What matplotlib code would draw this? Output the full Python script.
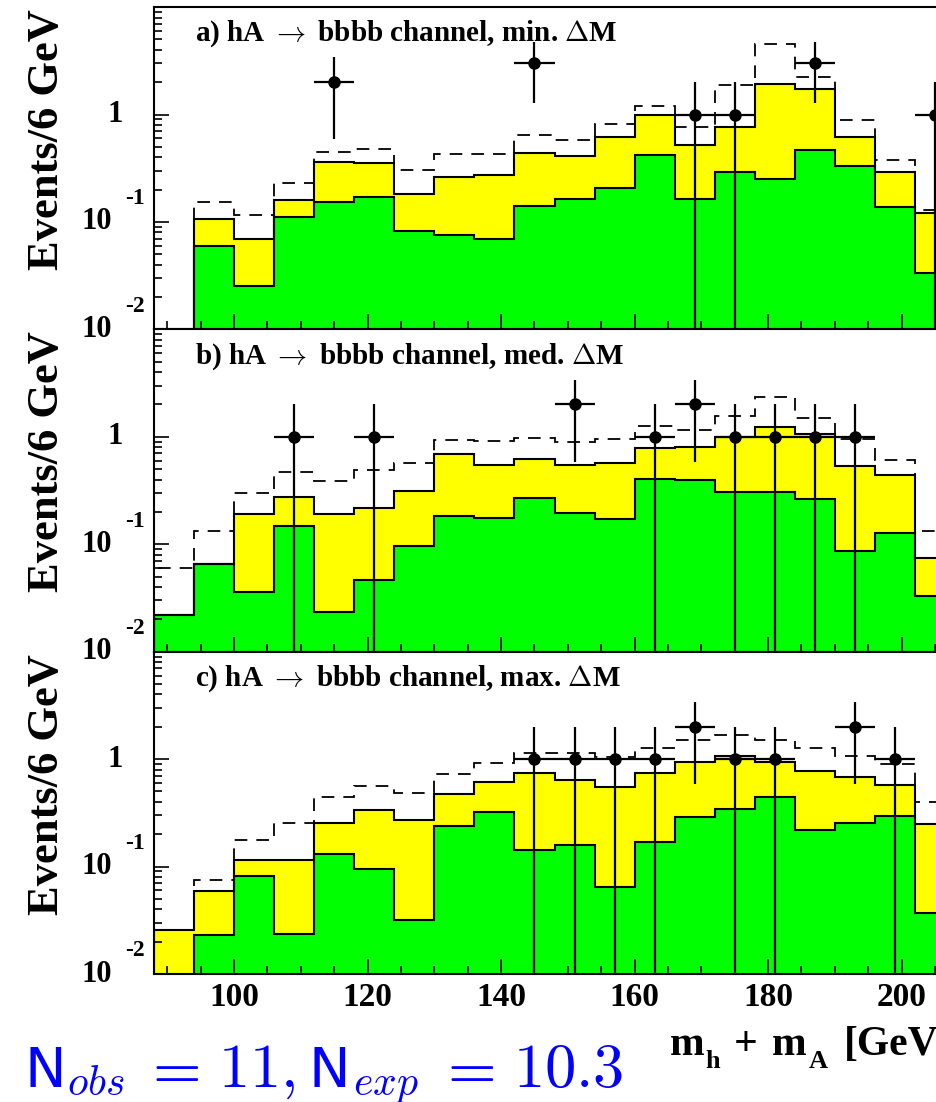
import numpy as np
import matplotlib
matplotlib.use('Agg')
import matplotlib.pyplot as plt
import matplotlib.transforms as mtransforms
from matplotlib.ticker import MultipleLocator, LogLocator, NullFormatter

plt.rcParams['font.family'] = ['Liberation Serif', 'DejaVu Serif']
plt.rcParams['font.weight'] = 'bold'
plt.rcParams['mathtext.fontset'] = 'cm'

nan = np.nan
edges = np.arange(88, 209, 6)          # 6 GeV bins, 88 .. 208
titles = [r'a) hA $\rightarrow$ bbbb channel, min. $\Delta$M',
          r'b) hA $\rightarrow$ bbbb channel, med. $\Delta$M',
          r'c) hA $\rightarrow$ bbbb channel, max. $\Delta$M']

# green = bottom component, yellow = total background, dashed = with signal
green_a = [nan, 0.060, 0.0252, 0.111, 0.152, 0.170, 0.082, 0.076, 0.0695, 0.141,
           0.164, 0.207, 0.421, 0.163, 0.292, 0.250, 0.472, 0.332, 0.138, 0.0337]
yellow_a = [nan, 0.106, 0.070, 0.160, 0.360, 0.352, 0.182, 0.264, 0.272, 0.440,
            0.409, 0.619, 0.986, 0.518, 0.767, 1.94, 1.72, 0.619, 0.292, 0.120]
dashed_a = [nan, 0.155, 0.115, 0.229, 0.449, 0.475, 0.307, 0.430, 0.433, 0.642,
            0.576, 0.813, 1.20, 0.767, 1.90, 4.49, 2.24, 0.898, 0.376, 0.128]
obs_x_a = [115, 145, 169, 175, 187, 205]
obs_n_a = [2, 3, 1, 1, 3, 1]

green_b = [0.0218, 0.066, 0.036, 0.148, 0.0234, 0.0462, 0.0958, 0.185, 0.175, 0.270,
           0.196, 0.171, 0.403, 0.395, 0.307, 0.305, 0.264, 0.0867, 0.127, 0.0328]
yellow_b = [0.0218, 0.066, 0.193, 0.274, 0.190, 0.218, 0.316, 0.685, 0.548, 0.624,
            0.544, 0.573, 0.790, 0.796, 1.0, 1.24, 1.06, 0.537, 0.443, 0.0746]
dashed_b = [0.060, 0.133, 0.301, 0.472, 0.389, 0.489, 0.565, 0.938, 0.924, 0.979,
            0.898, 0.951, 1.26, 1.16, 1.57, 2.34, 1.49, 0.951, 0.610, 0.132]
obs_x_b = [109, 121, 151, 163, 169, 175, 181, 187, 193]
obs_n_b = [1, 1, 2, 1, 2, 1, 1, 1, 1]

green_c = [nan, 0.0231, 0.0824, 0.0238, 0.130, 0.0945, 0.0316, 0.238, 0.321, 0.144,
           0.160, 0.0647, 0.170, 0.288, 0.344, 0.446, 0.218, 0.253, 0.296, 0.0373]
yellow_c = [0.0259, 0.0593, 0.115, 0.114, 0.252, 0.335, 0.270, 0.469, 0.615, 0.735,
            0.637, 0.552, 0.746, 0.931, 1.07, 0.944, 0.773, 0.675, 0.569, 0.250]
dashed_c = [nan, 0.0746, 0.176, 0.253, 0.440, 0.560, 0.479, 0.725, 0.924, 1.15,
            1.13, 1.05, 1.26, 1.52, 1.69, 1.50, 1.28, 1.07, 0.898, 0.403]
obs_x_c = [145, 151, 157, 163, 169, 175, 181, 193, 199]
obs_n_c = [1, 1, 1, 1, 2, 1, 1, 2, 1]

panels = [
    (green_a, yellow_a, dashed_a, obs_x_a, obs_n_a),
    (green_b, yellow_b, dashed_b, obs_x_b, obs_n_b),
    (green_c, yellow_c, dashed_c, obs_x_c, obs_n_c),
]

W_PX, H_PX = 937, 1102
fig = plt.figure(figsize=(W_PX / 100, H_PX / 100), dpi=100)


def stairs(ax, vals, **kw):
    vals = np.asarray(vals, float)
    i0 = int(np.argmax(np.isfinite(vals)))
    return ax.stairs(vals[i0:], edges[i0:], **kw)


left = 154 / W_PX
ax_h = 322.3 / H_PX
bottom_c = 1 - 974 / H_PX
for k, (green, yellow, dashed, ox, on) in enumerate(panels):
    ax = fig.add_axes([left, bottom_c + (2 - k) * ax_h, 1 - left, ax_h])
    ax.set_yscale('log')
    ax.set_xlim(88, 205.3)
    ax.set_ylim(0.01, 10)

    # dashed first, so its parts below the fills are hidden (ROOT look)
    stairs(ax, dashed, color='k', lw=1.3, baseline=1e-3, linestyle=(0, (7, 5)))
    stairs(ax, yellow, fill=True, color='#ffff00', baseline=1e-3, lw=0)
    stairs(ax, green, fill=True, color='#00ff00', baseline=1e-3, lw=0)
    stairs(ax, yellow, color='k', lw=1.5, baseline=1e-3)
    stairs(ax, green, color='k', lw=1.5, baseline=1e-3)

    on = np.asarray(on, float)
    ax.errorbar(ox, on, xerr=3, yerr=np.sqrt(on), fmt='o', color='k',
                ms=8, elinewidth=1.6, capsize=0, zorder=5)

    ax.text(41 / 783, 1 - 34 / 322, titles[k], transform=ax.transAxes,
            ha='left', va='baseline', fontsize=21, fontweight='bold')

    ax.xaxis.set_major_locator(MultipleLocator(20))
    ax.xaxis.set_minor_locator(MultipleLocator(5))
    ax.yaxis.set_major_locator(LogLocator(base=10))
    ax.yaxis.set_minor_locator(LogLocator(base=10, subs=np.arange(2, 10)))
    ax.yaxis.set_major_formatter(NullFormatter())
    ax.yaxis.set_minor_formatter(NullFormatter())
    ax.tick_params(which='both', direction='in', top=False, right=False, width=1.2)
    ax.tick_params(which='major', length=11)
    ax.tick_params(which='minor', length=5.5)
    ax.tick_params(axis='x', labelsize=24, pad=6)
    if k < 2:
        ax.tick_params(axis='x', labelbottom=False)
    ax.spines['right'].set_visible(False)
    for s in ('left', 'bottom', 'top'):
        ax.spines[s].set_linewidth(1.5)

    # ROOT style y labels: "10" with a raised exponent
    trans = mtransforms.blended_transform_factory(fig.transFigure, ax.transData)
    up = mtransforms.offset_copy(trans, fig=fig, y=23, units='dots')
    ax.text(123 / W_PX, 1, '1', transform=trans, ha='right', va='center',
            fontsize=22, fontweight='bold', clip_on=False)
    for val, ex in [(0.1, '-1'), (0.01, '-2')]:
        ax.text(112 / W_PX, val, '10', transform=trans, ha='right', va='center',
                fontsize=22, fontweight='bold', clip_on=False)
        ax.text(125 / W_PX, val, ex, transform=up, ha='left', va='center',
                fontsize=17, fontweight='bold', clip_on=False)

    top_px = 974 - (3 - k) * 322.3
    fig.text(47 / W_PX, 1 - (top_px + 2) / H_PX, 'Events/6 GeV', rotation=90,
             ha='center', va='top', fontsize=32, fontweight='bold')

# x axis title, built from pieces (main text + lowered subscripts)
xlab = [('m', 670, 0, 30), ('h', 705, 13, 19), ('+', 734, 0, 30),
        ('m', 772, 0, 30), ('A', 809, 13, 19), ('[GeV]', 844, 0, 30)]
for s, x, dy, fs in xlab:
    fig.text(x / W_PX, 1 - (1055 + dy) / H_PX, s, ha='left', va='baseline',
             fontsize=fs, fontweight='bold')

# blue summary text
blue = '#0000ff'
summary = [('N', 25, 0, 40, 'sans', 'left'), (r'$obs$', 67, 8, 30, 'math', 'left'),
           (r'$=$', 171, 0, 45, 'math', 'center'), (r'$11,$', 218, 0, 45, 'math', 'left'),
           ('N', 309, 0, 40, 'sans', 'left'), (r'$exp$', 353, 8, 30, 'math', 'left'),
           (r'$=$', 466, 0, 45, 'math', 'center'), (r'$10.3$', 623, 0, 45, 'math', 'right')]
for s, x, dy, fs, kind, ha in summary:
    fam = ['DejaVu Sans'] if kind == 'sans' else ['DejaVu Serif']
    fig.text(x / W_PX, 1 - (1087 + dy) / H_PX, s, ha=ha, va='baseline',
             fontsize=fs, color=blue, family=fam, fontweight='normal')

fig.savefig('out.png', dpi=100)
